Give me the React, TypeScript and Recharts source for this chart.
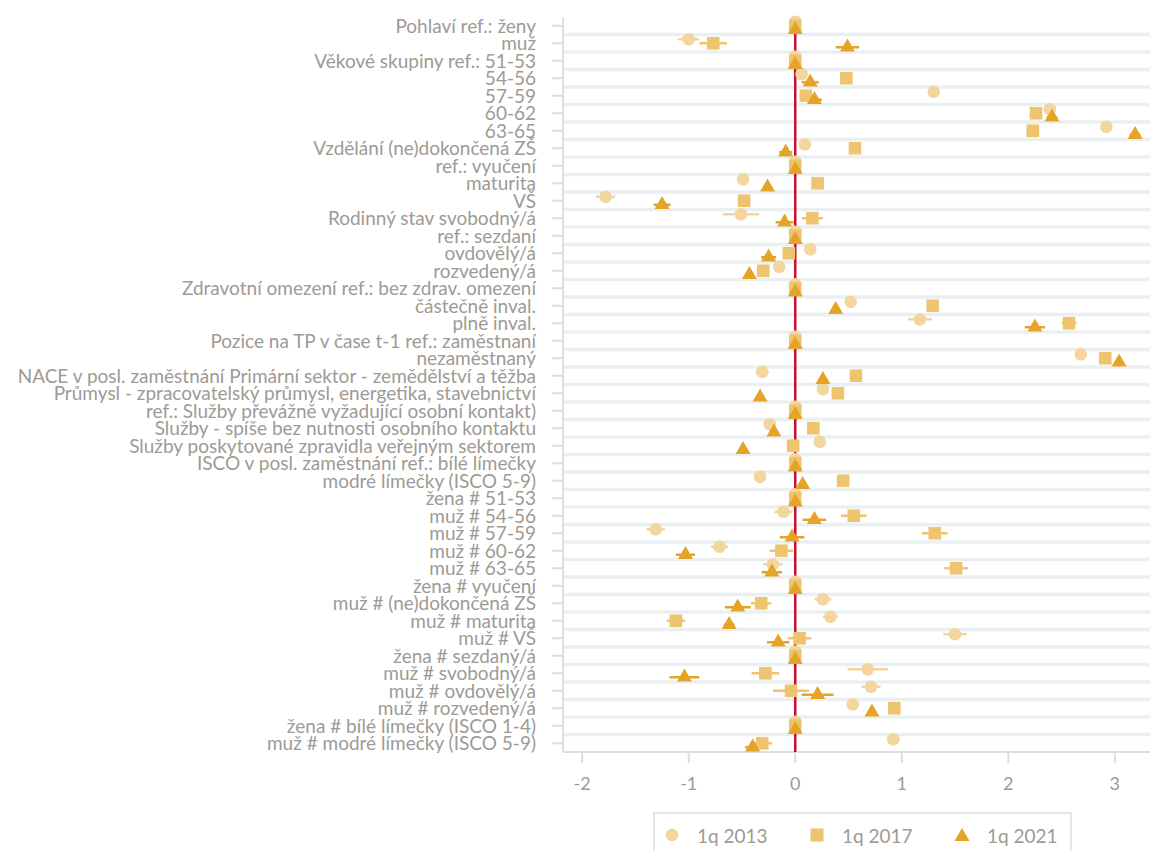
import React from 'react'
import { ScatterChart, Scatter, XAxis, YAxis, ReferenceLine, ErrorBar, Legend } from 'recharts'

const categories = [
  'Pohlaví ref.: ženy',
  'muž',
  'Věkové skupiny ref.: 51-53',
  '54-56',
  '57-59',
  '60-62',
  '63-65',
  'Vzdělání (ne)dokončená ZŠ',
  'ref.: vyučení',
  'maturita',
  'VŠ',
  'Rodinný stav svobodný/á',
  'ref.: sezdaní',
  'ovdovělý/á',
  'rozvedený/á',
  'Zdravotní omezení ref.: bez zdrav. omezení',
  'částečně inval.',
  'plně inval.',
  'Pozice na TP v čase t-1 ref.: zaměstnaní',
  'nezaměstnaný',
  'NACE v posl. zaměstnání Primární sektor - zemědělství a těžba',
  'Průmysl - zpracovatelský průmysl, energetika, stavebnictví',
  'ref.: Služby převážně vyžadující osobní kontakt)',
  'Služby - spíše bez nutnosti osobního kontaktu',
  'Služby poskytované zpravidla veřejným sektorem',
  'ISCO v posl. zaměstnání ref.: bílé límečky',
  'modré límečky (ISCO 5-9)',
  'žena # 51-53',
  'muž # 54-56',
  'muž # 57-59',
  'muž # 60-62',
  'muž # 63-65',
  'žena # vyučení',
  'muž # (ne)dokončená ZŠ',
  'muž # maturita',
  'muž # VŠ',
  'žena # sezdaný/á',
  'muž # svobodný/á',
  'muž # ovdovělý/á',
  'muž # rozvedený/á',
  'žena # bílé límečky (ISCO 1-4)',
  'muž # modré límečky (ISCO 5-9)',
]

const v2013 = [0, -1.0, 0, 0.06, 1.3, 2.39, 2.92, 0.09, 0, -0.49, -1.78, -0.51, 0, 0.14, -0.15, 0, 0.52, 1.17, 0, 2.68, -0.31, 0.26, 0, -0.24, 0.23, 0, -0.33, 0, -0.11, -1.31, -0.71, -0.21, 0, 0.26, 0.33, 1.5, 0, 0.68, 0.71, 0.54, 0, 0.92]
const v2017 = [0, -0.77, 0, 0.48, 0.1, 2.26, 2.23, 0.56, 0, 0.21, -0.48, 0.16, 0, -0.06, -0.3, 0, 1.29, 2.57, 0, 2.91, 0.57, 0.4, 0, 0.17, -0.02, 0, 0.45, 0, 0.55, 1.31, -0.13, 1.51, 0, -0.32, -1.12, 0.04, 0, -0.28, -0.04, 0.93, 0, -0.31]
const v2021 = [0, 0.49, 0, 0.14, 0.18, 2.41, 3.19, -0.09, 0, -0.26, -1.25, -0.1, 0, -0.25, -0.43, 0, 0.38, 2.25, 0, 3.04, 0.26, -0.33, 0, -0.2, -0.49, 0, 0.07, 0, 0.18, -0.03, -1.03, -0.22, 0, -0.54, -0.62, -0.16, 0, -1.04, 0.21, 0.72, 0, -0.4]

// half-widths of the confidence intervals
const e2013 = [0, 0.1, 0, 0.04, 0.04, 0.04, 0.05, 0.04, 0, 0.04, 0.09, 0.17, 0, 0.04, 0.04, 0, 0.04, 0.11, 0, 0.04, 0.06, 0.05, 0, 0.04, 0.04, 0, 0.04, 0, 0.085, 0.085, 0.08, 0.09, 0, 0.08, 0.07, 0.11, 0, 0.19, 0.09, 0.04, 0, 0.06]
const e2017 = [0, 0.13, 0, 0.04, 0.06, 0.05, 0.06, 0.04, 0, 0.04, 0.06, 0.1, 0, 0.05, 0.04, 0, 0.04, 0.07, 0, 0.04, 0.04, 0.04, 0, 0.04, 0.04, 0, 0.04, 0, 0.12, 0.12, 0.11, 0.11, 0, 0.095, 0.085, 0.11, 0, 0.13, 0.17, 0.04, 0, 0.09]
const e2021 = [0, 0.11, 0, 0.08, 0.07, 0.05, 0.05, 0.06, 0, 0.04, 0.08, 0.085, 0, 0.07, 0.04, 0, 0.04, 0.095, 0, 0.04, 0.04, 0.04, 0, 0.04, 0.04, 0, 0.04, 0, 0.11, 0.115, 0.09, 0.095, 0, 0.12, 0.05, 0.105, 0, 0.14, 0.15, 0.04, 0, 0.07]

const xTicks = [-2, -1, 0, 1, 2, 3]
const seriesNames = ['1q 2013', '1q 2017', '1q 2021']

const c2013 = '#F3D59E'
const c2017 = '#EEC46F'
const c2021 = '#E5A328'
const textColor = '#9E9A95'
const axisColor = '#DEDEDE'
const gridColor = '#EAF0F2'
const DODGE = 0.23

const toRows = (vals: number[], errs: number[], off: number) =>
  categories.map((c, i) => ({ name: c, x: vals[i], y: i + off, err: errs[i] }))

const d2013 = toRows(v2013, e2013, -DODGE)
const d2017 = toRows(v2017, e2017, 0)
const d2021 = toRows(v2021, e2021, DODGE)

const catTicks = categories.map((_, i) => i)
// separators between the rows
const gridLines = categories.slice(1).map((_, i) => i + 0.5)

const Dot = (p: any) => <circle cx={p.cx} cy={p.cy} r={6.3} fill={c2013} />
const Square = (p: any) => <rect x={p.cx - 6.3} y={p.cy - 6.3} width={12.6} height={12.6} fill={c2017} />
const Tri = (p: any) => {
  const s = 15
  const h = (s * Math.sqrt(3)) / 2
  return (
    <polygon
      points={`${p.cx},${p.cy - (2 * h) / 3} ${p.cx + s / 2},${p.cy + h / 3} ${p.cx - s / 2},${p.cy + h / 3}`}
      fill={c2021}
    />
  )
}

const YTick = (p: any) => (
  <text x={p.x} y={p.y} dy="0.36em" textAnchor="end" fill={textColor} fontSize={19} fontFamily="Lato">
    {categories[p.payload.value]}
  </text>
)

const LegendBox = () => {
  const icons = [
    <circle cx={7} cy={7} r={6.3} fill={c2013} />,
    <rect x={0.5} y={0.5} width={13} height={13} fill={c2017} />,
    <polygon points="7,0 14.5,13 -0.5,13" fill={c2021} />,
  ]
  return (
    <div style={{ position: 'relative', height: 49 }}>
      <div
        style={{
          position: 'absolute',
          top: 10,
          left: 0,
          width: 419,
          height: 39,
          border: '2px solid #E6E6E6',
          borderBottom: 'none',
          boxSizing: 'border-box',
          display: 'flex',
          paddingLeft: 10,
          paddingTop: 12,
          overflow: 'hidden',
        }}
      >
        {seriesNames.map((n, i) => (
          <div key={n} style={{ width: 145, flexShrink: 0, display: 'flex', alignItems: 'center', height: 18 }}>
            <svg width={14} height={14} style={{ overflow: 'visible', marginRight: 18, flexShrink: 0 }}>
              {icons[i]}
            </svg>
            <span style={{ fontFamily: 'Lato', fontSize: 19, color: textColor, whiteSpace: 'nowrap' }}>{n}</span>
          </div>
        ))}
      </div>
    </div>
  )
}

export default function App() {
  return (
    <div style={{ padding: '8px 0 0 8px' }}>
      <style>{'body { margin: 0; overflow: hidden; }'}</style>
      <ScatterChart width={1142} height={843} margin={{ top: 9, right: 0, bottom: 0, left: 0 }}>
        <XAxis
          type="number"
          dataKey="x"
          domain={[-2.18, 3.33]}
          ticks={xTicks}
          allowDataOverflow
          height={50}
          tickSize={11}
          tickMargin={14}
          axisLine={{ stroke: axisColor, strokeWidth: 2 }}
          tickLine={{ stroke: axisColor, strokeWidth: 2 }}
          tick={{ fill: textColor, fontSize: 18, fontFamily: 'Lato' }}
        />
        <YAxis
          type="number"
          dataKey="y"
          domain={[-0.5, 41.5]}
          reversed
          ticks={catTicks}
          interval={0}
          width={555}
          tickSize={11}
          tickMargin={16}
          axisLine={{ stroke: axisColor, strokeWidth: 2 }}
          tickLine={{ stroke: axisColor, strokeWidth: 2 }}
          tick={<YTick />}
        />
        {gridLines.map((g) => (
          <ReferenceLine key={g} y={g} stroke={gridColor} strokeWidth={3.5} zIndex={50} />
        ))}
        <ReferenceLine x={0} stroke="#C8102E" strokeWidth={2.5} zIndex={550} />
        <Legend
          verticalAlign="bottom"
          content={<LegendBox />}
          wrapperStyle={{ left: 645, width: 419, bottom: 0 }}
        />
        <Scatter name={seriesNames[0]} data={d2013} shape={Dot} isAnimationActive={false}>
          <ErrorBar dataKey="err" direction="x" width={0} stroke={c2013} strokeWidth={2.5} />
        </Scatter>
        <Scatter name={seriesNames[1]} data={d2017} shape={Square} isAnimationActive={false}>
          <ErrorBar dataKey="err" direction="x" width={0} stroke={c2017} strokeWidth={2.5} />
        </Scatter>
        <Scatter name={seriesNames[2]} data={d2021} shape={Tri} isAnimationActive={false}>
          <ErrorBar dataKey="err" direction="x" width={0} stroke={c2021} strokeWidth={2.5} />
        </Scatter>
      </ScatterChart>
    </div>
  )
}
